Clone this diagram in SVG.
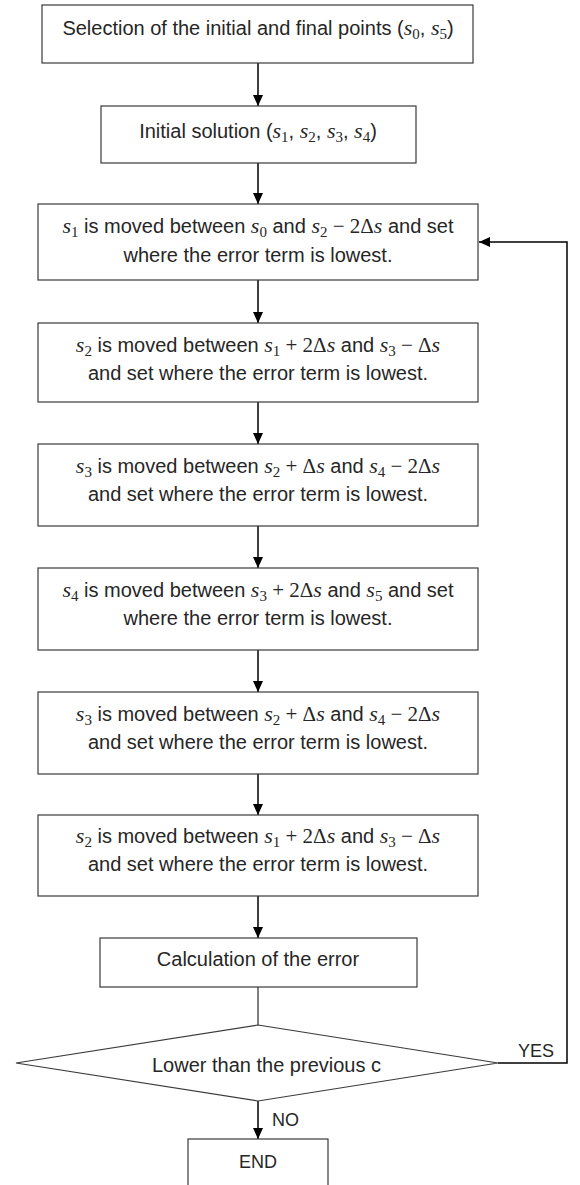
<svg xmlns="http://www.w3.org/2000/svg" width="580" height="1185" viewBox="0 0 580 1185">
<style>
.box{fill:#fff;stroke:#3a3a3a;stroke-width:1.2}
.t{font-family:"Liberation Sans",Arial,sans-serif;font-size:20px;fill:#262626;text-anchor:middle}
.ts{font-family:"Liberation Sans",Arial,sans-serif;font-size:20px;fill:#262626}
.lb{font-family:"Liberation Sans",Arial,sans-serif;font-size:18px;fill:#262626}
.m{font-family:"Liberation Serif","Times New Roman",serif;font-style:italic;font-size:22px}
.o{font-family:"Liberation Serif","Times New Roman",serif;font-size:21px}
.s{font-family:"Liberation Serif","Times New Roman",serif;font-size:15px}
.ln{fill:none;stroke:#000;stroke-width:1.5}
</style>
<defs>
<marker id="ah" viewBox="0 0 11 10" refX="11" refY="5" markerWidth="11" markerHeight="10" markerUnits="userSpaceOnUse" orient="auto">
<path d="M0,0 L11,5 L0,10 Z" fill="#000"/>
</marker>
</defs>
<g id="connectors">
<line class="ln" x1="258" y1="63" x2="258" y2="106" marker-end="url(#ah)"/>
<line class="ln" x1="258" y1="163" x2="258" y2="204" marker-end="url(#ah)"/>
<line class="ln" x1="258" y1="280" x2="258" y2="323" marker-end="url(#ah)"/>
<line class="ln" x1="258" y1="402" x2="258" y2="444" marker-end="url(#ah)"/>
<line class="ln" x1="258" y1="526" x2="258" y2="568" marker-end="url(#ah)"/>
<line class="ln" x1="258" y1="650" x2="258" y2="692" marker-end="url(#ah)"/>
<line class="ln" x1="258" y1="774" x2="258" y2="815" marker-end="url(#ah)"/>
<line class="ln" x1="258" y1="896" x2="258" y2="938" marker-end="url(#ah)"/>
<line x1="258" y1="987" x2="258" y2="1025" stroke="#000" stroke-width="1"/>
<line class="ln" x1="258" y1="1101" x2="258" y2="1139" marker-end="url(#ah)"/>
<polyline class="ln" points="498,1063 567,1063 567,242 479,242" marker-end="url(#ah)"/>
<text class="lb" x="518" y="1057">YES</text>
<text class="lb" x="272" y="1126">NO</text>
</g>
<g id="n1">
<rect class="box" x="42" y="5" width="431" height="58"/>
<text class="t" x="258" y="35">Selection of the initial and final points (<tspan class="m">s</tspan><tspan class="s" dy="4">0</tspan><tspan dy="-4">, </tspan><tspan class="m">s</tspan><tspan class="s" dy="4">5</tspan><tspan dy="-4">)</tspan></text>
</g>
<g id="n2">
<rect class="box" x="101" y="106" width="315" height="57"/>
<text class="t" x="258" y="138">Initial solution (<tspan class="m">s</tspan><tspan class="s" dy="4">1</tspan><tspan dy="-4">, </tspan><tspan class="m">s</tspan><tspan class="s" dy="4">2</tspan><tspan dy="-4">, </tspan><tspan class="m">s</tspan><tspan class="s" dy="4">3</tspan><tspan dy="-4">, </tspan><tspan class="m">s</tspan><tspan class="s" dy="4">4</tspan><tspan dy="-4">)</tspan></text>
</g>
<g id="n3">
<rect class="box" x="38" y="204" width="440" height="76"/>
<text class="t" x="258" y="233"><tspan class="m">s</tspan><tspan class="s" dy="4">1</tspan><tspan dy="-4"> is moved between </tspan><tspan class="m">s</tspan><tspan class="s" dy="4">0</tspan><tspan dy="-4"> and </tspan><tspan class="m">s</tspan><tspan class="s" dy="4">2</tspan><tspan class="o" dy="-4"> − 2Δ</tspan><tspan class="m">s</tspan><tspan> and set</tspan></text>
<text class="t" x="258" y="262">where the error term is lowest.</text>
</g>
<g id="n4">
<rect class="box" x="38" y="323" width="440" height="79"/>
<text class="t" x="258" y="352"><tspan class="m">s</tspan><tspan class="s" dy="4">2</tspan><tspan dy="-4"> is moved between </tspan><tspan class="m">s</tspan><tspan class="s" dy="4">1</tspan><tspan class="o" dy="-4"> + 2Δ</tspan><tspan class="m">s</tspan><tspan> and </tspan><tspan class="m">s</tspan><tspan class="s" dy="4">3</tspan><tspan class="o" dy="-4"> − Δ</tspan><tspan class="m">s</tspan></text>
<text class="t" x="258" y="380">and set where the error term is lowest.</text>
</g>
<g id="n5">
<rect class="box" x="38" y="444" width="440" height="82"/>
<text class="t" x="258" y="473"><tspan class="m">s</tspan><tspan class="s" dy="4">3</tspan><tspan dy="-4"> is moved between </tspan><tspan class="m">s</tspan><tspan class="s" dy="4">2</tspan><tspan class="o" dy="-4"> + Δ</tspan><tspan class="m">s</tspan><tspan> and </tspan><tspan class="m">s</tspan><tspan class="s" dy="4">4</tspan><tspan class="o" dy="-4"> − 2Δ</tspan><tspan class="m">s</tspan></text>
<text class="t" x="258" y="501">and set where the error term is lowest.</text>
</g>
<g id="n6">
<rect class="box" x="38" y="568" width="440" height="82"/>
<text class="t" x="258" y="597"><tspan class="m">s</tspan><tspan class="s" dy="4">4</tspan><tspan dy="-4"> is moved between </tspan><tspan class="m">s</tspan><tspan class="s" dy="4">3</tspan><tspan class="o" dy="-4"> + 2Δ</tspan><tspan class="m">s</tspan><tspan> and </tspan><tspan class="m">s</tspan><tspan class="s" dy="4">5</tspan><tspan dy="-4"> and set</tspan></text>
<text class="t" x="258" y="625">where the error term is lowest.</text>
</g>
<g id="n7">
<rect class="box" x="38" y="692" width="440" height="82"/>
<text class="t" x="258" y="721"><tspan class="m">s</tspan><tspan class="s" dy="4">3</tspan><tspan dy="-4"> is moved between </tspan><tspan class="m">s</tspan><tspan class="s" dy="4">2</tspan><tspan class="o" dy="-4"> + Δ</tspan><tspan class="m">s</tspan><tspan> and </tspan><tspan class="m">s</tspan><tspan class="s" dy="4">4</tspan><tspan class="o" dy="-4"> − 2Δ</tspan><tspan class="m">s</tspan></text>
<text class="t" x="258" y="749">and set where the error term is lowest.</text>
</g>
<g id="n8">
<rect class="box" x="38" y="815" width="440" height="81"/>
<text class="t" x="258" y="843"><tspan class="m">s</tspan><tspan class="s" dy="4">2</tspan><tspan dy="-4"> is moved between </tspan><tspan class="m">s</tspan><tspan class="s" dy="4">1</tspan><tspan class="o" dy="-4"> + 2Δ</tspan><tspan class="m">s</tspan><tspan> and </tspan><tspan class="m">s</tspan><tspan class="s" dy="4">3</tspan><tspan class="o" dy="-4"> − Δ</tspan><tspan class="m">s</tspan></text>
<text class="t" x="258" y="871">and set where the error term is lowest.</text>
</g>
<g id="n9">
<rect class="box" x="100" y="938" width="317" height="49"/>
<text class="t" x="258" y="966">Calculation of the error</text>
</g>
<g id="n10">
<polygon class="box" points="258,1025 498,1063 258,1101 16,1063"/>
<text class="ts" x="152" y="1072">Lower than the previous c</text>
</g>
<g id="n11">
<rect class="box" x="188" y="1139" width="140" height="52"/>
<text class="lb" x="258" y="1168" text-anchor="middle">END</text>
</g>
</svg>
